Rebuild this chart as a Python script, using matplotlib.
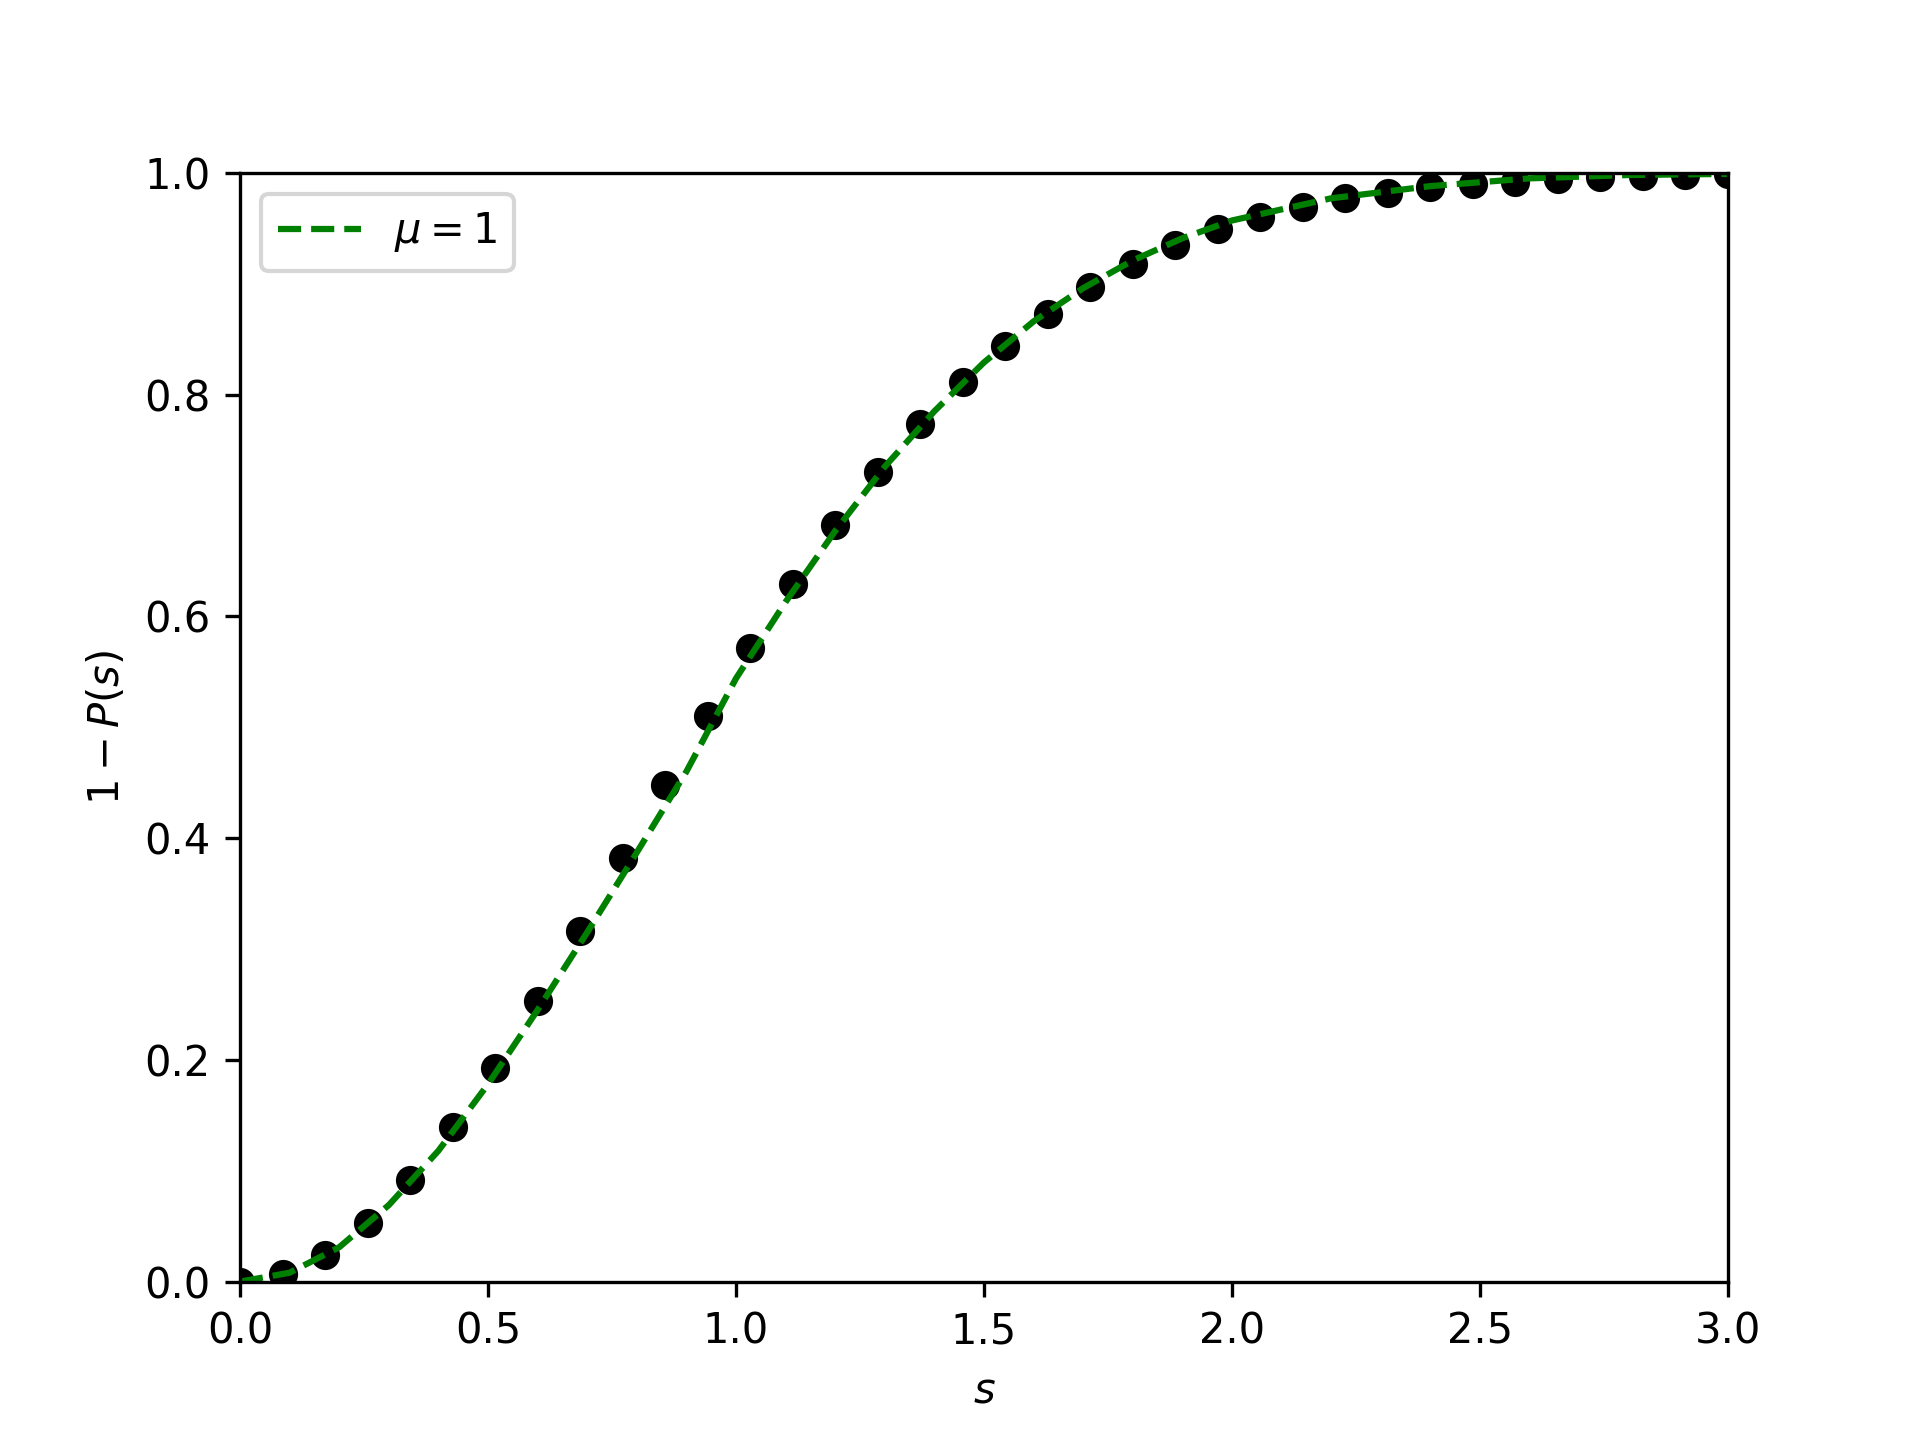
import numpy as np
import matplotlib
matplotlib.use("Agg")
import matplotlib.pyplot as plt

# spacing values s (36 points from 0 to 3) and measured 1 - P(s)
s_vals = np.linspace(0, 3, 36)
cdf_data = [0.000, 0.007, 0.024, 0.053, 0.092, 0.139, 0.193, 0.253, 0.316,
            0.382, 0.448, 0.510, 0.571, 0.629, 0.682, 0.730, 0.773, 0.811,
            0.844, 0.873, 0.897, 0.918, 0.935, 0.949, 0.960, 0.969, 0.977,
            0.982, 0.987, 0.990, 0.992, 0.994, 0.996, 0.997, 0.998, 0.999]

# theory curve
s_fit = [0.0, 0.1, 0.2, 0.3, 0.4, 0.5, 0.6, 0.7, 0.8, 0.9, 1.0, 1.1, 1.2,
         1.3, 1.4, 1.5, 1.6, 1.7, 1.8, 1.9, 2.0, 2.2, 2.4, 2.6, 2.8, 3.0]
cdf_fit = [0.000, 0.008, 0.031, 0.069, 0.118, 0.178, 0.245, 0.315, 0.387,
           0.460, 0.544, 0.613, 0.677, 0.735, 0.785, 0.829, 0.866, 0.896,
           0.921, 0.941, 0.957, 0.977, 0.988, 0.995, 0.998, 0.999]

fig = plt.figure(figsize=(6.4, 4.8), dpi=300)
plt.plot(s_vals, cdf_data, 'ko')
plt.plot(s_fit, cdf_fit, 'g--', linewidth=1.5, label=r'$\mu = 1$')
plt.xlim(0, 3)
plt.ylim(0, 1)
plt.xlabel(r'$s$')
plt.ylabel(r'$1 - P(s)$')
plt.legend(loc='upper left')
plt.savefig('out.png', dpi=300)
